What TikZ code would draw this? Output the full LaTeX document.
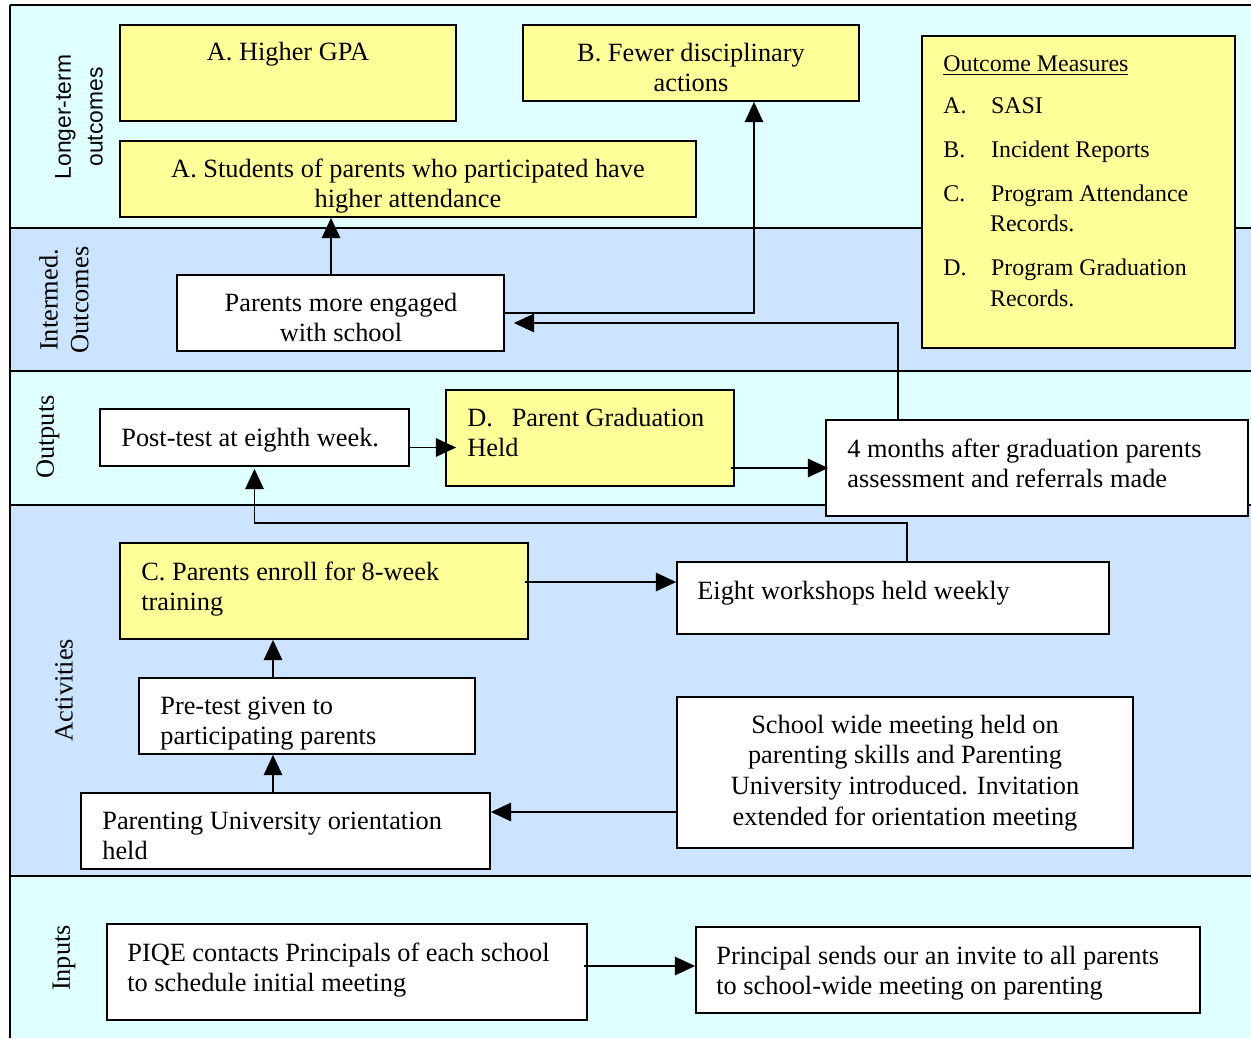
\documentclass[tikz,border=0pt]{standalone}
\usepackage{fontspec}
\setmainfont{Liberation Serif}
\setsansfont{Liberation Sans}
\usetikzlibrary{arrows.meta,calc,fit}
\definecolor{bandA}{HTML}{E0FFFF}
\definecolor{bandB}{HTML}{CCE4FF}
\definecolor{ylw}{HTML}{FFFF99}
\newcommand\fs{\fontsize{15}{17.6}\selectfont}
\newcommand\fsm{\fontsize{13.6}{17.4}\selectfont}
\begin{document}
\begin{tikzpicture}[x=0.02cm,y=-0.02cm,
  box/.style={draw, line width=1pt, fill=white, inner sep=0pt},
  ybox/.style={box, fill=ylw},
  txt/.style={font=\fs, inner sep=0pt, align=left, anchor=north west},
  ctxt/.style={font=\fs, inner sep=0pt, align=center, anchor=north},
  lbl/.style={font=\fs, inner sep=0pt, align=center, rotate=90},
  arr/.style={line width=0.9pt, -{Triangle[length=11.5pt,width=10.5pt]}},
  band/.style={line width=1pt}]
\useasboundingbox (0,0) rectangle (1251,1038);
\fill[white] (0,0) rectangle (1251,1038);
% bands
\fill[bandA] (10,5) rectangle (1251,228);
\fill[bandB] (10,228) rectangle (1251,371);
\fill[bandA] (10,371) rectangle (1251,505);
\fill[bandB] (10,505) rectangle (1251,876);
\fill[bandA] (10,876) rectangle (1251,1038);
\draw[band] (10,5) -- (1251,5);
\draw[band] (10,228) -- (1251,228);
\draw[band] (10,371) -- (1251,371);
\draw[band] (10,505) -- (1251,505);
\draw[band] (10,876) -- (1251,876);
\draw[band] (10,5) -- (10,1038);
% band labels
\node[lbl, font=\sffamily\fontsize{13}{18}\selectfont] (l1) at (79,117) {Longer-term\\outcomes};
\node[lbl] (l2) at (64,300) {Intermed.\\Outcomes};
\node[lbl] (l3) at (48,437) {Outputs};
\node[lbl] (l4) at (64,690) {Activities};
\node[lbl] (l5) at (64,958) {Inputs};
% boxes
\node[ybox, fit={(120,25)(456,121)}] (gpa) {};
\node[ybox, fit={(523,25)(859,101)}] (fewer) {};
\node[ybox, fit={(120,141)(696,217)}] (students) {};
\node[ybox, fit={(922,36)(1235,348)}] (measures) {};
\node[box, fit={(177,275)(504,351)}] (engaged) {};
\node[box, fit={(100,409)(409,466)}] (post) {};
\node[ybox, fit={(446,390)(734,486)}] (grad) {};
\node[box, fit={(826,420)(1248,516)}] (months) {};
\node[ybox, fit={(120,543)(528,639)}] (enroll) {};
\node[box, fit={(677,562)(1109,634)}] (workshops) {};
\node[box, fit={(139,678)(475,754)}] (pretest) {};
\node[box, fit={(677,697)(1133,848)}] (school) {};
\node[box, fit={(81,793)(490,869)}] (orient) {};
\node[box, fit={(107,924)(587,1020)}] (piqe) {};
\node[box, fit={(696,927)(1200,1013)}] (principal) {};
% texts
\node[ctxt] (gpa-t) at (288,39) {\strut A. Higher GPA};
\node[ctxt] (fewer-t) at (691,39) {\strut B. Fewer disciplinary\\actions};
\node[ctxt] (students-t) at (408,155) {\strut A. Students of parents who participated have\\higher attendance};
\node[txt, font=\fsm] (measures-t) at (943,50) {\strut\underline{Outcome Measures}\\[6.5pt]
\makebox[27.2pt][l]{A.}SASI\\[7.5pt]
\makebox[27.2pt][l]{B.}Incident Reports\\[7.5pt]
\makebox[27.2pt][l]{C.}Program Attendance\\
\hspace*{26.6pt}Records.\\[7.5pt]
\makebox[27.2pt][l]{D.}Program Graduation\\
\hspace*{26.6pt}Records.};
\node[ctxt] (engaged-t) at (341,289) {\strut Parents more engaged\\with school};
\node[txt] (post-t) at (121,424) {\strut Post-test at eighth week.};
\node[txt] (grad-t) at (467,404) {\strut D.\hspace{10.7pt}Parent Graduation\\Held};
\node[txt] (months-t) at (847,435) {\strut 4 months after graduation parents\\assessment and referrals made};
\node[txt] (enroll-t) at (141,558) {\strut C. Parents enroll for 8-week\\training};
\node[txt] (workshops-t) at (697,577) {\strut Eight workshops held weekly};
\node[txt] (pretest-t) at (160,692) {\strut Pre-test given to\\participating parents};
\node[ctxt] (school-t) at (905,711) {\strut School wide meeting held on\\parenting skills and Parenting\\University introduced. Invitation\\extended for orientation meeting};
\node[txt] (orient-t) at (102,807) {\strut Parenting University orientation\\held};
\node[txt] (piqe-t) at (127,939) {\strut PIQE contacts Principals of each school\\to schedule initial meeting};
\node[txt] (principal-t) at (716,942) {\strut Principal sends our an invite to all parents\\to school-wide meeting on parenting};
% connectors
\draw[arr] ($(piqe.east |- principal.west)+(-4,-4)$) -- ($(principal.west)+(0,-4)$);
\coordinate (k1) at ($(school.west)+(0,39.5)$);
\draw[arr] (k1) -- (k1 -| orient.east);
\coordinate (k2) at ($(orient.north)+(-12.5,0)$);
\draw[arr] (k2) -- (k2 |- pretest.south);
\coordinate (k3) at ($(pretest.north)+(-34,0)$);
\draw[arr] (k3) -- (k3 |- enroll.south);
\coordinate (k4) at ($(enroll.east)+(-4,-9)$);
\draw[arr] (k4) -- (k4 -| workshops.west);
\coordinate (k5) at ($(workshops.north)+(14,0)$);
\draw[arr] (k5) -- ++(0,-38) -| ($(post.south)+(0,2)$);
\coordinate (k6) at ($(post.east)+(0,10)$);
\draw[arr] (k6) -- ($(k6 -| grad.west)+(11,0)$);
\draw[arr] ($(months.west -| grad.east)+(-4,0)$) -- ($(months.west)+(3,0)$);
\coordinate (k7) at ($(months.north)+(-139,0)$);
\coordinate (k8) at ($(engaged.east)+(9,10)$);
\draw[arr] (k7) |- (k8);
\draw[arr] (engaged.east) -| ($(fewer.south)+(63,0)$);
\coordinate (k9) at ($(engaged.north)+(-9.5,0)$);
\draw[arr] (k9) -- (k9 |- students.south);
\end{tikzpicture}
\end{document}
